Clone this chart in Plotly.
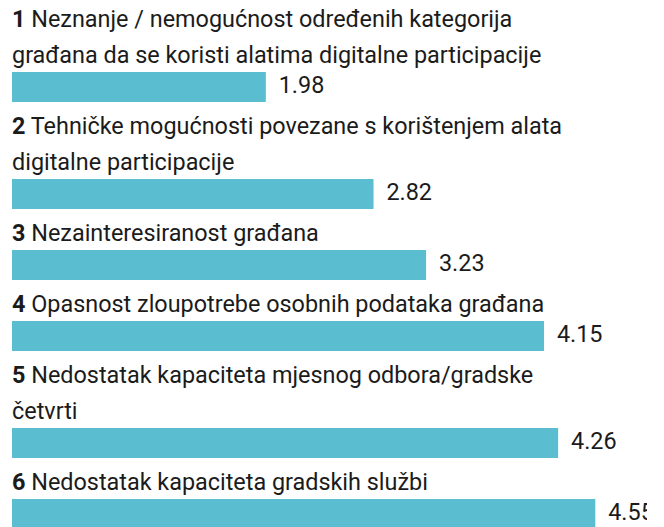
import plotly.graph_objects as go

# data
item_numbers = ["1", "2", "3", "4", "5", "6"]
label_lines = [
    ["Neznanje / nemogućnost određenih kategorija",
     "građana da se koristi alatima digitalne participacije"],
    ["Tehničke mogućnosti povezane s korištenjem alata",
     "digitalne participacije"],
    ["Nezainteresiranost građana"],
    ["Opasnost zloupotrebe osobnih podataka građana"],
    ["Nedostatak kapaciteta mjesnog odbora/gradske",
     "četvrti"],
    ["Nedostatak kapaciteta gradskih službi"],
]
scores = [1.98, 2.82, 3.23, 4.15, 4.26, 4.55]

BAR_COLOR = "#5bbed0"
TEXT_COLOR = "#1b1b1b"
FONT = "Roboto"
FS = 23.4

W, H = 664, 527
CLIP_R = 17      # value labels are clipped this far from the right edge
PX_PER_UNIT = 128.2
X0 = 12          # pixel where the bars start
LINE_H = 36      # distance between label lines
FIRST_BASE = 27  # baseline of the very first label line
BAR_H = 30
GAP_TEXT_BAR = 9
GAP_BAR_TEXT = 32

# vertical layout in pixel units (y axis runs top -> bottom)
bar_centers = []
line_pos = []
base = FIRST_BASE
for lines in label_lines:
    pos = []
    for i in range(len(lines)):
        pos.append(base + i * LINE_H)
    line_pos.append(pos)
    top = pos[-1] + GAP_TEXT_BAR
    bar_centers.append(top + BAR_H / 2)
    base = top + BAR_H + GAP_BAR_TEXT

fig = go.Figure()
fig.add_trace(go.Bar(
    x=scores, y=bar_centers, orientation="h", width=BAR_H,
    marker=dict(color=BAR_COLOR, line=dict(width=0)),
    hoverinfo="skip",
))
# value labels, clipped by the plot area like in the original
fig.add_trace(go.Scatter(
    x=scores, y=bar_centers, mode="markers+text",
    text=[f"{v:.2f}" for v in scores], textposition="middle right",
    marker=dict(size=19, opacity=0),
    textfont=dict(family=FONT, size=FS, color=TEXT_COLOR),
    cliponaxis=True, hoverinfo="skip",
))

annotations = []
for num, lines, pos in zip(item_numbers, label_lines, line_pos):
    for i, (txt, b) in enumerate(zip(lines, pos)):
        if i == 0:
            txt = f"<b>{num}</b> {txt}"
        annotations.append(dict(
            x=0, y=b - 0.34 * FS, xref="x", yref="y", text=txt,
            showarrow=False, xanchor="left", yanchor="middle", xshift=-2,
            font=dict(family=FONT, size=FS, color=TEXT_COLOR),
        ))

fig.update_layout(
    width=W, height=H,
    margin=dict(l=0, r=CLIP_R, t=0, b=0),
    paper_bgcolor="white", plot_bgcolor="white",
    showlegend=False,
    annotations=annotations,
    xaxis=dict(range=[-X0 / PX_PER_UNIT, (W - CLIP_R - X0) / PX_PER_UNIT],
               visible=False, fixedrange=True),
    yaxis=dict(range=[H, 0], visible=False, fixedrange=True),
)

# drop the default page margin so the chart fills the window
fig.write_html("out.html", config={"displayModeBar": False},
               post_script="document.body.style.margin='0';"
                           "document.body.style.overflow='hidden';")
